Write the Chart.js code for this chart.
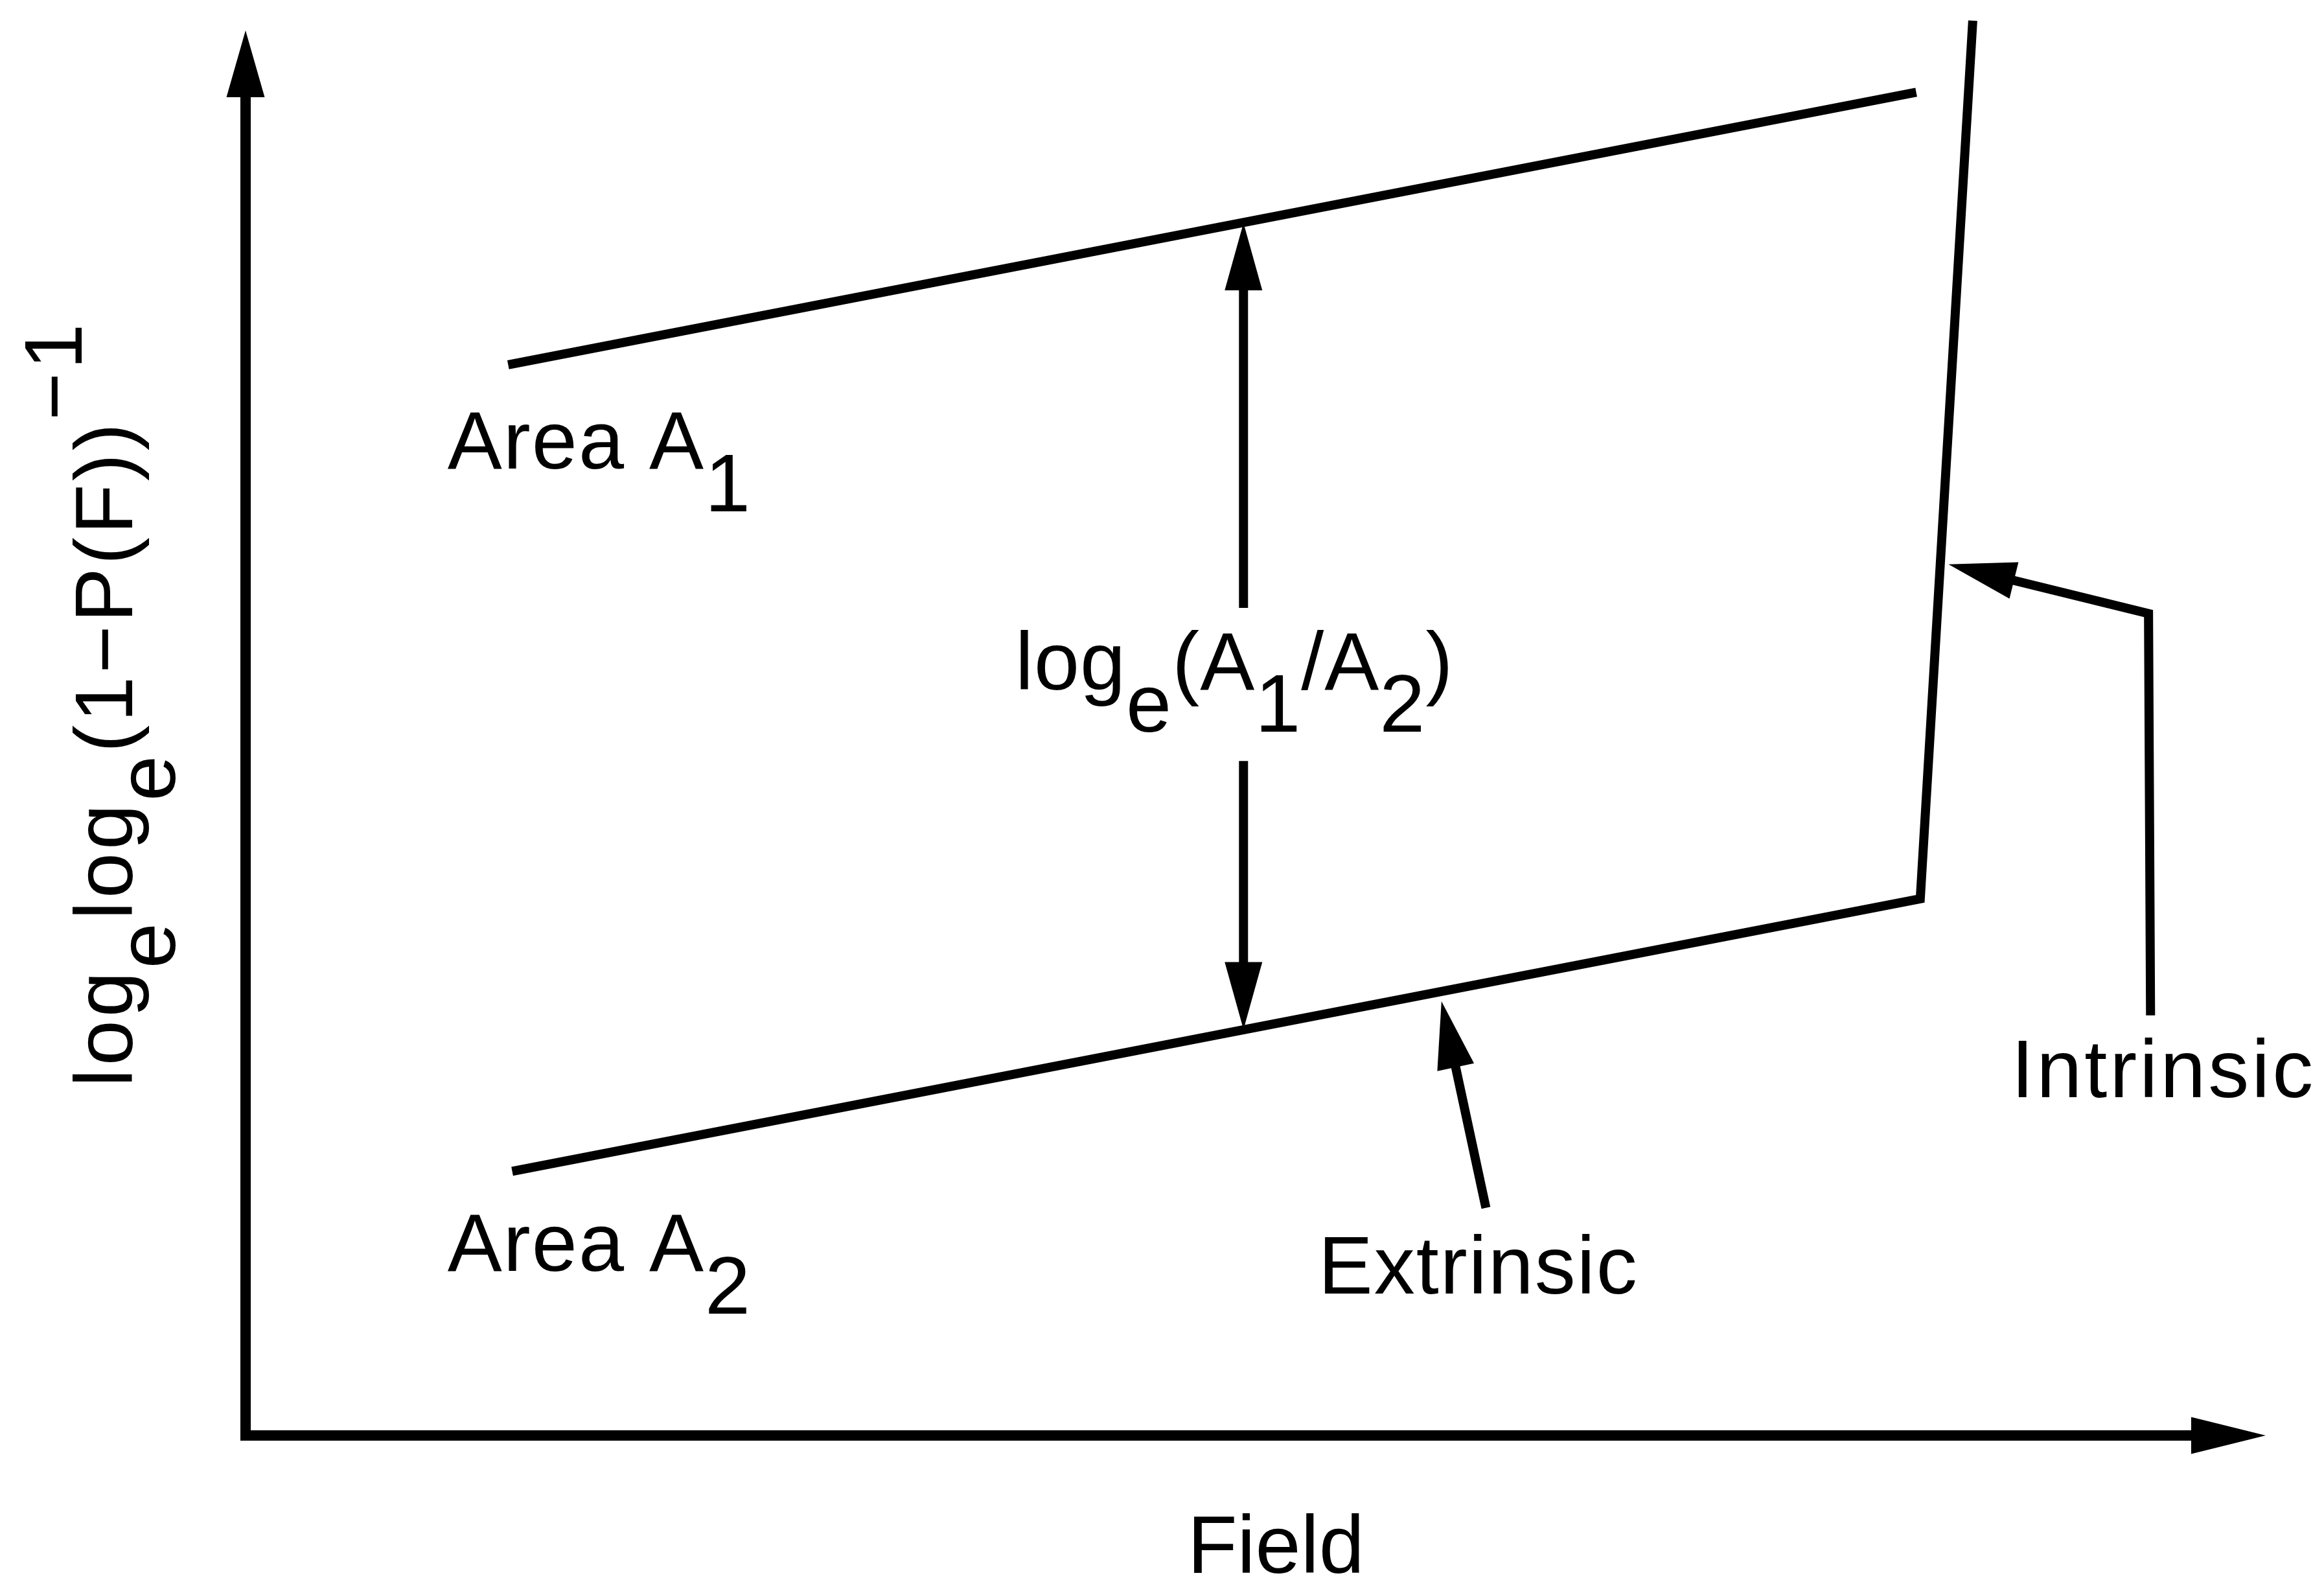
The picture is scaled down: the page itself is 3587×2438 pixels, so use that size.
<!DOCTYPE html>
<html>
<head>
<meta charset="utf-8">
<title>Breakdown field vs. area</title>
<script src="https://cdn.jsdelivr.net/npm/chart.js@4.4.1/dist/chart.umd.min.js"></script>
<style>
  html, body { margin: 0; padding: 0; background: #fff; }
  canvas { display: block; }
</style>
</head>
<body>
<canvas id="plot" width="3587" height="2438"></canvas>
<script>
// Field and loge loge(1-P(F))^-1 are both in arbitrary units (0-100)
const fieldA1 = [13.0, 82.7];
const weibA1 = [76.2, 95.6];

// smaller area: same slope, then the sharp intrinsic rise
const fieldA2 = [13.2, 82.9, 85.5];
const weibA2 = [18.8, 38.2, 100.7];

// double arrow for the loge(A1/A2) shift, broken round its label
const gapField = [49.4, 49.4];
const gapUpper = [58.9, 86.3];
const gapLower = [48.0, 28.9];

// pointers from the two labels to their branches
const extField = [61.4, 59.2];
const extWeib = [16.2, 30.9];
const intField = [94.3, 94.2, 84.3];
const intWeib = [29.9, 58.5, 62.0];

// text, in the same units as the data
const notes = [
  { parts: [['Area A'], ['1', 'sub']], x: 10.0, y: 68.8, spacing: 2 },
  { parts: [['Area A'], ['2', 'sub']], x: 10.0, y: 11.7, spacing: 2 },
  { parts: [['log'], ['e', 'sub'], ['(A'], ['1', 'sub'], ['/A'], ['2', 'sub'], [')']], x: 38.1, y: 53.1, spacing: 1 },
  { parts: [['Extrinsic']], x: 53.1, y: 10.1, spacing: 2 },
  { parts: [['Intrinsic']], x: 87.4, y: 24.1, spacing: 4 }
];
const xTitle = { text: 'Field', x: 51.0, y: -9.8 };
const yTitle = { parts: [['log'], ['e', 'sub'], ['log'], ['e', 'sub'], ['(1\u2212P(F))'], ['\u22121', 'sup']], x: -5.6, y: 24.8, spacing: 5 };

const FONT_SIZE = 126;
const FONT = FONT_SIZE + 'px "Liberation Sans", Arial, sans-serif';

function pts(xs, ys) {
  return xs.map((x, i) => ({ x: x, y: ys[i] }));
}

function drawRich(ctx, parts, x, y, spacing) {
  ctx.letterSpacing = (spacing || 0) + 'px';
  let cx = x;
  parts.forEach(([t, mode]) => {
    let dy = 0;
    if (mode === 'sub') dy = 0.52 * FONT_SIZE;
    if (mode === 'sup') dy = -0.62 * FONT_SIZE;
    ctx.fillText(t, cx, y + dy);
    cx += ctx.measureText(t).width;
  });
  ctx.letterSpacing = '0px';
}

function arrowHead(ctx, from, to, len, wid) {
  const ang = Math.atan2(to.y - from.y, to.x - from.x);
  ctx.save();
  ctx.translate(to.x, to.y);
  ctx.rotate(ang);
  ctx.beginPath();
  ctx.moveTo(0, 0);
  ctx.lineTo(-len, -wid / 2);
  ctx.lineTo(-len, wid / 2);
  ctx.closePath();
  ctx.fill();
  ctx.restore();
}

// polyline whose last segment stops inside the arrow head
function arrowLine(ctx, p, len, wid) {
  const a = p[p.length - 2], b = p[p.length - 1];
  const d = Math.hypot(b.x - a.x, b.y - a.y);
  const cut = len * 0.7;
  const end = { x: b.x - (b.x - a.x) / d * cut, y: b.y - (b.y - a.y) / d * cut };
  ctx.beginPath();
  ctx.moveTo(p[0].x, p[0].y);
  for (let i = 1; i < p.length - 1; i++) ctx.lineTo(p[i].x, p[i].y);
  ctx.lineTo(end.x, end.y);
  ctx.stroke();
  arrowHead(ctx, a, b, len, wid);
}

const sketch = {
  id: 'sketch',
  beforeDraw(chart) {
    const ctx = chart.ctx;
    ctx.save();
    ctx.fillStyle = '#fff';
    ctx.fillRect(0, 0, chart.width, chart.height);
    ctx.restore();
  },
  afterDatasetsDraw(chart) {
    const { ctx, chartArea: ca, scales: { x, y } } = chart;
    ctx.save();
    ctx.strokeStyle = '#000';
    ctx.fillStyle = '#000';
    ctx.lineJoin = 'miter';

    // axes with arrow heads
    ctx.lineWidth = 16;
    ctx.beginPath();
    ctx.moveTo(ca.left, ca.top + 80);
    ctx.lineTo(ca.left, ca.bottom);
    ctx.lineTo(ca.right - 90, ca.bottom);
    ctx.stroke();
    arrowHead(ctx, { x: ca.left, y: ca.bottom }, { x: ca.left, y: ca.top }, 103, 59);
    arrowHead(ctx, { x: ca.left, y: ca.bottom }, { x: ca.right, y: ca.bottom }, 115, 57);

    // annotation arrows
    ctx.lineWidth = 14;
    chart.data.datasets.forEach((ds, i) => {
      if (!ds.arrow) return;
      const p = chart.getDatasetMeta(i).data.map(e => ({ x: e.x, y: e.y }));
      arrowLine(ctx, p, 104, 58);
    });

    // labels
    ctx.font = FONT;
    ctx.textBaseline = 'alphabetic';
    ctx.textAlign = 'left';
    notes.forEach(n => drawRich(ctx, n.parts, x.getPixelForValue(n.x), y.getPixelForValue(n.y), n.spacing));

    ctx.textAlign = 'center';
    ctx.fillText(xTitle.text, x.getPixelForValue(xTitle.x), y.getPixelForValue(xTitle.y));

    ctx.textAlign = 'left';
    ctx.translate(x.getPixelForValue(yTitle.x), y.getPixelForValue(yTitle.y));
    ctx.rotate(-Math.PI / 2);
    drawRich(ctx, yTitle.parts, 0, 0, yTitle.spacing);
    ctx.restore();
  }
};

const lineStyle = {
  showLine: true,
  borderColor: '#000',
  borderWidth: 14,
  pointRadius: 0,
  tension: 0,
  clip: false
};
const arrowStyle = { showLine: false, pointRadius: 0, arrow: true, clip: false };

new Chart(document.getElementById('plot'), {
  type: 'scatter',
  data: {
    datasets: [
      Object.assign({ label: 'Area A1', data: pts(fieldA1, weibA1) }, lineStyle),
      Object.assign({ label: 'Area A2', data: pts(fieldA2, weibA2) }, lineStyle),
      Object.assign({ label: 'shift up', data: pts(gapField, gapUpper) }, arrowStyle),
      Object.assign({ label: 'shift down', data: pts(gapField, gapLower) }, arrowStyle),
      Object.assign({ label: 'Extrinsic', data: pts(extField, extWeib) }, arrowStyle),
      Object.assign({ label: 'Intrinsic', data: pts(intField, intWeib) }, arrowStyle)
    ]
  },
  options: {
    responsive: false,
    animation: false,
    devicePixelRatio: 1,
    events: [],
    layout: { padding: { left: 379, right: 90, top: 47, bottom: 223 } },
    plugins: { legend: { display: false }, tooltip: { enabled: false } },
    scales: {
      x: { type: 'linear', display: false, min: 0, max: 100 },
      y: { type: 'linear', display: false, min: 0, max: 100 }
    }
  },
  plugins: [sketch]
});
</script>
</body>
</html>
